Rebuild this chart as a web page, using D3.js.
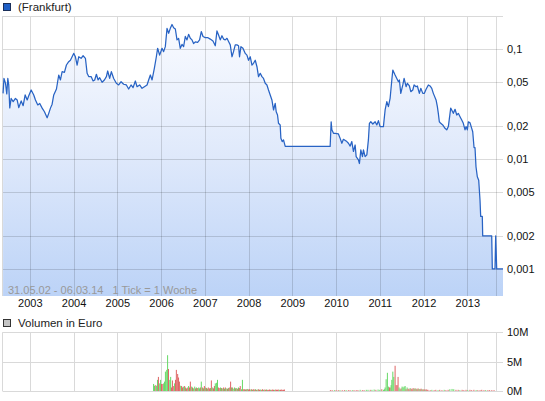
<!DOCTYPE html>
<html><head><meta charset="utf-8">
<script src="https://cdn.jsdelivr.net/npm/d3@7"></script>
<style>
html,body{margin:0;padding:0;background:#fff;}
svg{display:block;font-family:"Liberation Sans",Arial,sans-serif;}
</style></head><body>
<svg id="c" width="545" height="401"></svg>
<script>
// ---- data ----
const yearTicks = [2003,2004,2005,2006,2007,2008,2009,2010,2011,2012,2013];
const extraGrid = [2013.66];
const priceTicks = [0.1,0.05,0.02,0.01,0.005,0.002,0.001];
const priceTickLabels = ["0,1","0,05","0,02","0,01","0,005","0,002","0,001"];
const volTicks = [0,5,10];
const volTickLabels = ["0M","5M","10M"];
// [decimal year, price in EUR]
const price = [
[2002.39,0.0395],[2002.41,0.054],[2002.445,0.0488],[2002.475,0.039],[2002.498,0.054],[2002.52,0.0471],
[2002.543,0.0291],[2002.575,0.0355],[2002.621,0.0332],[2002.673,0.0355],[2002.712,0.0344],[2002.749,0.0293],
[2002.804,0.0337],[2002.849,0.0305],[2002.895,0.0382],[2002.941,0.0344],[2002.977,0.0376],[2003.032,0.0424],
[2003.091,0.0382],[2003.13,0.0344],[2003.183,0.031],[2003.228,0.032],[2003.283,0.029],[2003.336,0.0269],
[2003.397,0.0237],[2003.434,0.026],[2003.473,0.029],[2003.511,0.0315],[2003.548,0.0382],[2003.61,0.0433],
[2003.662,0.058],[2003.701,0.0523],[2003.74,0.0622],[2003.792,0.0614],[2003.838,0.0715],[2003.89,0.0766],
[2003.929,0.079],[2003.968,0.085],[2004.004,0.0912],[2004.043,0.085],[2004.082,0.0715],[2004.119,0.085],
[2004.173,0.0823],[2004.219,0.0868],[2004.272,0.0823],[2004.311,0.0601],[2004.347,0.0561],[2004.402,0.0561],
[2004.448,0.0512],[2004.484,0.0523],[2004.523,0.0589],[2004.562,0.0523],[2004.598,0.0548],[2004.653,0.0498],
[2004.705,0.0523],[2004.751,0.0561],[2004.781,0.0631],[2004.826,0.054],[2004.865,0.0622],[2004.918,0.054],
[2004.979,0.0488],[2005.032,0.0471],[2005.087,0.0504],[2005.146,0.0478],[2005.208,0.0471],[2005.26,0.0433],
[2005.315,0.0471],[2005.361,0.0445],[2005.413,0.0512],[2005.452,0.0454],[2005.511,0.0471],[2005.566,0.0439],
[2005.619,0.0454],[2005.68,0.0471],[2005.717,0.0523],[2005.756,0.058],[2005.795,0.0523],[2005.847,0.0667],
[2005.893,0.085],[2005.922,0.1015],[2005.968,0.088],[2006.023,0.1015],[2006.059,0.0946],[2006.098,0.105],
[2006.137,0.154],[2006.174,0.139],[2006.212,0.154],[2006.251,0.167],[2006.288,0.156],[2006.327,0.152],
[2006.365,0.121],[2006.402,0.125],[2006.44,0.1015],[2006.479,0.110],[2006.516,0.105],[2006.555,0.130],
[2006.593,0.121],[2006.63,0.136],[2006.669,0.125],[2006.708,0.121],[2006.744,0.112],[2006.783,0.116],
[2006.836,0.115],[2006.881,0.121],[2006.92,0.144],[2006.959,0.130],[2007.011,0.127],[2007.064,0.127],
[2007.125,0.123],[2007.187,0.118],[2007.24,0.107],[2007.278,0.146],[2007.315,0.134],[2007.354,0.121],
[2007.392,0.132],[2007.429,0.123],[2007.468,0.121],[2007.507,0.125],[2007.543,0.117],[2007.582,0.109],
[2007.621,0.085],[2007.657,0.0946],[2007.696,0.109],[2007.735,0.109],[2007.771,0.107],[2007.794,0.085],
[2007.826,0.105],[2007.872,0.1015],[2007.925,0.0912],[2007.963,0.088],[2008.0,0.079],[2008.039,0.085],
[2008.078,0.0715],[2008.114,0.0741],[2008.153,0.079],[2008.192,0.069],[2008.228,0.0561],[2008.267,0.0601],
[2008.306,0.0561],[2008.342,0.054],[2008.381,0.0488],[2008.42,0.0471],[2008.456,0.0424],[2008.495,0.0382],
[2008.534,0.0344],[2008.571,0.0279],[2008.609,0.032],[2008.632,0.0269],[2008.662,0.0251],[2008.685,0.0211],
[2008.723,0.0204],[2008.739,0.0154],[2008.769,0.0144],[2008.799,0.0149],[2008.838,0.013],[2009.865,0.013],
[2009.888,0.0218],[2009.904,0.0184],[2009.941,0.0171],[2009.979,0.0171],[2010.054,0.0169],[2010.093,0.0154],
[2010.132,0.0139],[2010.168,0.0151],[2010.246,0.0144],[2010.283,0.0139],[2010.322,0.0131],[2010.36,0.0144],
[2010.397,0.0117],[2010.436,0.0134],[2010.459,0.0105],[2010.511,0.0098],[2010.534,0.0091],[2010.566,0.0121],
[2010.603,0.0105],[2010.626,0.0121],[2010.664,0.0105],[2010.703,0.0109],[2010.739,0.0149],[2010.762,0.0211],
[2010.794,0.0218],[2010.84,0.0208],[2010.893,0.0218],[2010.931,0.0204],[2010.968,0.0223],[2011.006,0.0197],
[2011.082,0.0197],[2011.121,0.0279],[2011.16,0.0332],[2011.196,0.0299],[2011.235,0.0355],[2011.274,0.0523],
[2011.297,0.0644],[2011.349,0.058],[2011.388,0.054],[2011.425,0.0504],[2011.447,0.0523],[2011.479,0.0395],
[2011.525,0.0471],[2011.555,0.054],[2011.6,0.0454],[2011.63,0.0488],[2011.676,0.0461],[2011.708,0.0409],
[2011.753,0.0424],[2011.783,0.0471],[2011.829,0.0454],[2011.858,0.0461],[2011.904,0.0395],[2011.936,0.0439],
[2011.982,0.0395],[2012.018,0.0395],[2012.057,0.043],[2012.109,0.0471],[2012.148,0.0461],[2012.187,0.0439],
[2012.223,0.0395],[2012.285,0.0344],[2012.315,0.0299],[2012.337,0.026],[2012.36,0.0218],[2012.392,0.0211],
[2012.438,0.0204],[2012.49,0.019],[2012.529,0.0184],[2012.566,0.0197],[2012.62,0.029],[2012.643,0.0279],
[2012.68,0.026],[2012.719,0.0283],[2012.758,0.0251],[2012.794,0.026],[2012.833,0.0242],[2012.872,0.0226],
[2012.908,0.0211],[2012.947,0.0184],[2012.97,0.0197],[2013.0,0.0184],[2013.023,0.0218],[2013.062,0.0213],
[2013.1,0.019],[2013.123,0.0177],[2013.153,0.0127],[2013.175,0.0127],[2013.198,0.0085],[2013.228,0.0069],
[2013.26,0.0064],[2013.29,0.0042],[2013.305,0.003],[2013.342,0.003],[2013.351,0.002],[2013.557,0.002],
[2013.571,0.001],[2013.632,0.001],[2013.648,0.002],[2013.671,0.001],[2013.815,0.001]
];
// [decimal year, volume in million EUR, 1 = up (green) / 0 = down (red)]
const volume = [
[2005.83,1.2,1],[2005.85,0.9,1],[2005.88,1.0,0],[2005.90,0.85,1],[2005.92,1.9,1],[2005.94,2.4,0],[2005.97,1.3,1],
[2005.99,1.9,1],[2006.01,1.2,0],[2006.04,1.2,0],[2006.06,1.3,1],[2006.08,1.6,1],[2006.10,3.3,1],[2006.13,3.6,1],
[2006.15,6.1,1],[2006.17,3.75,0],[2006.20,1.9,1],[2006.22,2.4,1],[2006.24,0.6,0],[2006.26,1.8,0],[2006.29,0.85,0],
[2006.31,1.3,1],[2006.33,1.9,0],[2006.35,3.6,0],[2006.38,2.9,0],[2006.40,2.3,0],[2006.42,1.6,0],[2006.45,0.9,1],
[2006.47,0.85,0],[2006.49,0.6,0],[2006.51,0.75,1],[2006.54,0.85,0],[2006.56,0.6,1],[2006.58,0.45,0],[2006.61,0.6,0],
[2006.63,0.85,1],[2006.65,0.6,0],[2006.67,1.6,0],[2006.70,0.75,1],[2006.72,0.6,0],[2006.74,0.45,1],[2006.77,0.75,1],
[2006.79,0.45,0],[2006.81,0.6,1],[2006.83,0.5,0],[2006.86,0.6,1],[2006.88,0.45,1],[2006.90,0.6,0],[2006.92,1.6,1],
[2006.95,0.6,0],[2006.97,0.45,1],[2006.99,0.85,0],[2007.02,0.6,1],[2007.04,0.5,0],[2007.06,0.4,1],[2007.08,0.6,0],
[2007.11,0.45,0],[2007.13,0.5,1],[2007.15,1.8,0],[2007.18,0.6,1],[2007.20,0.45,0],[2007.22,0.85,0],[2007.24,1.3,1],
[2007.27,1.4,1],[2007.29,1.9,1],[2007.31,0.6,0],[2007.33,0.5,0],[2007.36,0.6,1],[2007.38,0.5,0],[2007.40,0.45,1],
[2007.43,0.6,0],[2007.45,0.4,1],[2007.47,0.6,0],[2007.49,0.45,1],[2007.52,0.4,0],[2007.54,0.5,1],[2007.56,0.6,0],
[2007.59,1.6,0],[2007.61,0.6,1],[2007.63,0.6,0],[2007.65,0.4,1],[2007.68,0.6,1],[2007.70,0.45,0],[2007.72,0.5,1],
[2007.75,0.4,0],[2007.77,0.6,1],[2007.79,0.5,0],[2007.81,0.85,0],[2007.84,0.3,1],[2007.86,1.9,1],[2007.88,0.3,0],
[2007.91,0.3,0],[2007.93,0.25,1],[2007.95,0.3,0],[2007.98,0.35,1],[2008.00,0.25,0],[2008.02,0.3,0],[2008.05,0.25,1],
[2008.07,0.3,0],[2008.09,0.2,1],[2008.11,0.3,0],[2008.14,0.25,0],[2008.16,0.3,1],[2008.18,0.2,0],[2008.21,0.25,1],
[2008.23,0.3,0],[2008.25,0.2,0],[2008.27,0.25,1],[2008.30,0.2,0],[2008.32,0.3,0],[2008.34,0.2,1],[2008.37,0.25,0],
[2008.39,0.2,0],[2008.41,0.25,1],[2008.43,0.2,0],[2008.46,0.2,0],[2008.48,0.25,0],[2008.50,0.2,1],[2008.52,0.2,0],
[2008.55,0.25,0],[2008.57,0.2,0],[2008.59,0.2,1],[2008.62,0.25,0],[2008.64,0.2,0],[2008.66,0.2,0],[2008.68,0.25,0],
[2008.71,0.2,1],[2008.73,0.2,0],[2008.75,0.25,0],[2008.78,0.2,0],[2008.80,0.2,0],[2008.82,0.25,0],
[2009.87,0.15,0],[2009.91,0.15,0],[2009.96,0.15,1],[2010.00,0.15,0],[2010.05,0.15,0],[2010.09,0.15,1],[2010.14,0.15,0],
[2010.19,0.15,0],[2010.23,0.15,1],[2010.28,0.15,0],[2010.32,0.15,0],[2010.37,0.15,1],[2010.41,0.15,0],[2010.46,0.15,0],
[2010.50,0.15,0],[2010.55,0.2,1],[2010.60,0.15,0],[2010.64,0.15,0],[2010.69,0.2,1],[2010.73,0.2,1],[2010.78,0.2,0],
[2010.82,0.2,1],[2010.87,0.25,1],[2010.91,0.2,0],[2010.96,0.25,1],[2011.00,0.2,1],
[2011.045,0.3,0],[2011.082,0.2,1],[2011.105,0.3,1],[2011.121,0.6,1],[2011.144,2.0,1],[2011.173,3.1,1],[2011.196,0.75,1],
[2011.219,0.6,0],[2011.235,0.6,0],[2011.258,1.0,1],[2011.274,1.9,1],[2011.297,3.3,1],[2011.319,2.4,1],[2011.349,4.3,0],
[2011.372,1.0,0],[2011.395,1.0,0],[2011.417,2.4,0],[2011.44,0.6,1],[2011.463,0.3,1],[2011.486,0.45,0],[2011.509,0.75,1],
[2011.532,0.6,1],[2011.555,0.75,1],[2011.578,0.85,1],[2011.6,0.3,0],[2011.623,0.6,1],[2011.646,0.4,0],[2011.669,0.3,0],
[2011.692,0.5,1],[2011.715,0.4,0],[2011.737,0.3,0],[2011.76,0.5,0],[2011.783,0.4,1],[2011.806,0.45,0],[2011.829,0.4,1],
[2011.851,0.3,0],[2011.874,0.45,0],[2011.897,0.35,1],[2011.92,0.3,0],[2011.943,0.4,0],[2011.965,0.3,1],[2011.988,0.25,0],
[2012.011,0.3,0],[2012.034,0.2,1],[2012.057,0.3,0],[2012.079,0.2,0],
[2012.10,0.2,0],[2012.15,0.15,0],[2012.19,0.2,1],[2012.24,0.15,0],[2012.28,0.2,0],[2012.33,0.15,1],[2012.37,0.2,0],
[2012.42,0.15,0],[2012.47,0.2,1],[2012.51,0.15,0],[2012.56,0.2,0],[2012.60,0.3,1],[2012.65,0.35,1],[2012.69,0.3,1],
[2012.74,0.2,0],[2012.79,0.2,0],[2012.83,0.15,1],[2012.88,0.2,0],[2012.92,0.15,0],[2012.97,0.2,0],[2013.01,0.15,1],
[2013.06,0.2,0],[2013.10,0.15,0],[2013.15,0.2,0],[2013.20,0.15,1],[2013.24,0.15,0],[2013.29,0.15,0],[2013.33,0.2,0],
[2013.38,0.15,0],[2013.42,0.15,1],[2013.47,0.15,0],[2013.51,0.15,0],[2013.56,0.15,0],[2013.61,0.15,0]
];

// ---- layout ----
const svg = d3.select("#c");
const L = 2.5, R = 503, T = 16, B = 296;
const VT = 332.3, VB = 391;
const x = d3.scaleLinear().domain([2002.377, 2013.815]).range([L, R]);
const y = d3.scaleLog().domain([0.000568, 0.1995]).range([B, T]);
const yv = d3.scaleLinear().domain([0, 10]).range([VB, VT]);
const gridCol = "#d9d9d9";

const defs = svg.append("defs");
const grad = defs.append("linearGradient").attr("id","fillG")
  .attr("gradientUnits","userSpaceOnUse").attr("x1",0).attr("y1",T).attr("x2",0).attr("y2",B);
grad.append("stop").attr("offset","0").attr("stop-color","#fbfcff");
grad.append("stop").attr("offset","0.5").attr("stop-color","#dfe9fb");
grad.append("stop").attr("offset","1").attr("stop-color","#bcd3f7");

// legend top
svg.append("rect").attr("x",3.5).attr("y",3.5).attr("width",7).attr("height",7)
  .attr("fill","#1f5fc6").attr("stroke","#1a2f5a").attr("stroke-width",1);
svg.append("text").attr("x",18).attr("y",10.5).attr("font-size",11.5).attr("fill","#222").text("(Frankfurt)");

// area + line
const area = d3.area().x(d=>x(d[0])).y0(B).y1(d=>y(d[1]));
svg.append("path").datum(price).attr("d",area).attr("fill","url(#fillG)");

// grid main
const gMain = svg.append("g");
gMain.selectAll(".hg").data(priceTicks).join("line")
  .attr("x1",L).attr("x2",R).attr("y1",d=>Math.round(y(d))+0.5).attr("y2",d=>Math.round(y(d))+0.5)
  .attr("stroke","#000").attr("stroke-opacity",0.14);
gMain.selectAll(".vg").data(yearTicks.concat(extraGrid)).join("line")
  .attr("x1",d=>Math.round(x(d))+0.5).attr("x2",d=>Math.round(x(d))+0.5).attr("y1",T).attr("y2",B)
  .attr("stroke","#000").attr("stroke-opacity",0.14);
svg.append("line").attr("x1",L).attr("x2",R).attr("y1",T+0.5).attr("y2",T+0.5).attr("stroke",gridCol);
svg.append("line").attr("x1",L).attr("x2",L).attr("y1",T).attr("y2",B).attr("stroke",gridCol);

// price line
const line = d3.line().x(d=>x(d[0])).y(d=>y(d[1]));
svg.append("path").datum(price).attr("d",line).attr("fill","none")
  .attr("stroke","#2863c4").attr("stroke-width",1.25).attr("stroke-linejoin","round");

// period text
svg.append("text").attr("x",8).attr("y",294).attr("font-size",11).attr("fill","#999")
  .attr("xml:space","preserve").style("white-space","pre").text("31.05.02 - 06.03.14   1 Tick = 1 Woche");

// axes main
const xAxis = d3.axisBottom(x).tickValues(yearTicks).tickFormat(d3.format("d")).tickSize(0).tickPadding(3);
const gx = svg.append("g").attr("transform",`translate(0,${B})`).call(xAxis);
gx.select(".domain").remove();
gx.selectAll("text").attr("font-size",11).attr("fill","#111").attr("font-family","Liberation Sans, Arial, sans-serif");

const yAxis = d3.axisRight(y).tickValues(priceTicks).tickFormat((d,i)=>priceTickLabels[i]).tickSize(0).tickPadding(4);
const gy = svg.append("g").attr("transform",`translate(${R},0)`).call(yAxis);
gy.select(".domain").remove();
gy.selectAll("text").attr("font-size",11).attr("fill","#111").attr("font-family","Liberation Sans, Arial, sans-serif");

// volume legend
svg.append("rect").attr("x",3.5).attr("y",319.5).attr("width",7).attr("height",7)
  .attr("fill","#c4c4c4").attr("stroke","#333").attr("stroke-width",1);
svg.append("text").attr("x",18).attr("y",327).attr("font-size",11.5).attr("fill","#222").text("Volumen in Euro");

// volume grid
const gVol = svg.append("g");
gVol.selectAll("line.h").data(volTicks).join("line")
  .attr("x1",L).attr("x2",R).attr("y1",d=>Math.round(yv(d))+0.5).attr("y2",d=>Math.round(yv(d))+0.5)
  .attr("stroke",gridCol);
gVol.selectAll("line.v").data(yearTicks.concat(extraGrid)).join("line")
  .attr("x1",d=>Math.round(x(d))+0.5).attr("x2",d=>Math.round(x(d))+0.5).attr("y1",VT).attr("y2",VB)
  .attr("stroke",gridCol);
svg.append("line").attr("x1",L).attr("x2",L).attr("y1",VT).attr("y2",VB).attr("stroke",gridCol);

// volume bars
svg.append("g").selectAll("rect").data(volume).join("rect")
  .attr("x",d=>x(d[0])-0.5).attr("width",1)
  .attr("y",d=>yv(d[1])).attr("height",d=>VB-yv(d[1]))
  .attr("fill",d=>d[2]?"#66d966":"#de6464");

const vAxis = d3.axisRight(yv).tickValues(volTicks).tickFormat((d,i)=>volTickLabels[i]).tickSize(0).tickPadding(4);
const gva = svg.append("g").attr("transform",`translate(${R},0)`).call(vAxis);
gva.select(".domain").remove();
gva.selectAll("text").attr("font-size",11).attr("fill","#111").attr("font-family","Liberation Sans, Arial, sans-serif");
</script>
</body></html>
